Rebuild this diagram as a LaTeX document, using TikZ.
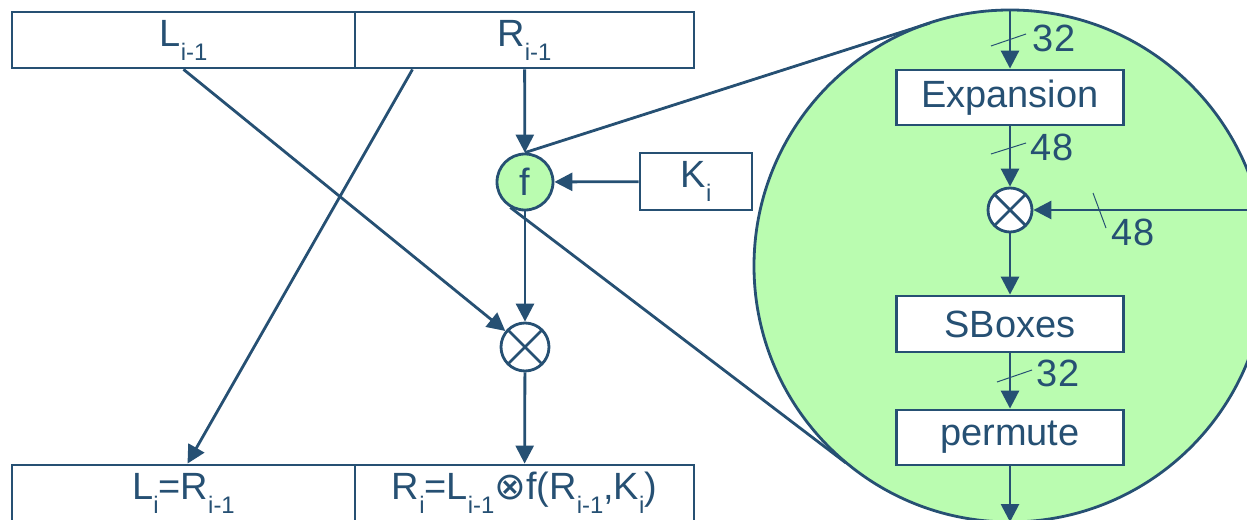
\documentclass[tikz,border=0pt]{standalone}
\usepackage{fontspec}
\setmainfont{Liberation Sans}
\newfontfamily\symfont{DejaVu Sans}
\usetikzlibrary{arrows.meta, positioning}

\definecolor{desblue}{RGB}{38,80,115}
\definecolor{desgreen}{RGB}{186,252,176}
\newcommand\lowidx[1]{\raisebox{-0.7ex}{\fontsize{17}{17}\selectfont #1}}

\begin{document}
\begin{tikzpicture}[
    every node/.style={text=desblue, font=\fontsize{27}{30}\selectfont},
    half/.style={rectangle, draw=desblue, fill=white, line width=2pt, minimum height=1.4cm, inner sep=0pt, align=center},
    stage/.style={rectangle, draw=desblue, fill=white, line width=2pt, minimum width=5.675cm, minimum height=1.375cm, inner sep=0pt},
    fbox/.style={circle, draw=desblue, fill=desgreen, line width=2pt, minimum size=1.4cm, inner sep=0pt},
    xorop/.style={circle, draw=desblue, fill=white, line width=2pt, minimum size=#1, inner sep=0pt,
        path picture={\draw[desblue, line width=2pt] (path picture bounding box.north west) -- (path picture bounding box.south east)
            (path picture bounding box.north east) -- (path picture bounding box.south west);}},
    arrow/.style={draw=desblue, line width=2pt, -{Triangle[length=0.45cm,width=0.45cm]}},
    link/.style={draw=desblue, line width=2pt},
    tick/.style={draw=desblue, line width=0.7pt}
]
\useasboundingbox (0,0) rectangle (31.175,-13);
\clip (0,0) rectangle (31.175,-13);

% Magnified f
\node (zoom) [circle, draw=desblue, fill=desgreen, line width=2pt, minimum size=12.8cm] at (25.25,-6.65) {};

% Nodes
\node (Lprev) [half, minimum width=8.575cm] at (4.5875,-1.0) {L\lowidx{i-1}};
\node (Rprev) [half, minimum width=8.475cm] at (13.1125,-1.0) {R\lowidx{i-1}};
\node (Lnext) [half, minimum width=8.575cm] at (4.5875,-12.325) {L\lowidx{i}=R\lowidx{i-1}};
\node (Rnext) [half, minimum width=8.475cm] at (13.1125,-12.325) {R\lowidx{i}=L\lowidx{i-1}{\symfont ⊗}f(R\lowidx{i-1},K\lowidx{i})};

\node (f) [fbox] at (13.125,-4.55) {f};
\node (key) [half, minimum width=2.8cm, minimum height=1.425cm] at (17.4,-4.5375) {K\lowidx{i}};
\node (xor) [xorop=1.2cm] at (13.125,-8.675) {};

\node (expand) [stage] at (25.25,-2.4375) {Expansion};
\node (xorin) [xorop=1.1cm] at (25.25,-5.25) {};
\node (sbox) [stage, minimum height=1.4cm] at (25.25,-8.1) {SBoxes};
\node (perm) [stage] at (25.25,-10.9375) {permute};

\coordinate (zoomin) at (25.25,-0.25);
\coordinate (zoomout) at (25.25,-13.05);
\coordinate (keyin) at (31.4,-5.25);
\coordinate (zoomtop) at (23.25,-0.575);
\coordinate (zoombot) at (21.15,-11.575);

% Arrows
\draw [arrow] (Lprev.south) -- (xor);
\draw [arrow] ([xshift=-2.8cm]Rprev.south) -- ([xshift=0.1cm]Lnext.north);
\draw [arrow] (Rprev) -- (f);
\draw [arrow] (key) -- (f);
\draw [arrow] (f) -- (xor);
\draw [arrow] (xor) -- (Rnext);

\draw [link] (f.north) -- (zoomtop);
\draw [link] (f.240) -- (zoombot);

\draw [arrow] (zoomin) -- (expand);
\draw [arrow] (expand) -- (xorin);
\draw [arrow] (keyin) -- (xorin);
\draw [arrow] (xorin) -- (sbox);
\draw [arrow] (sbox) -- (perm);
\draw [arrow] (perm) -- (zoomout);

% Bit widths
\draw [tick] (24.775,-1.15) -- (25.65,-0.85);
\node (w1) at (26.35,-0.95) {32};
\draw [tick] (24.775,-3.85) -- (25.65,-3.575);
\node (w2) at (26.3,-3.675) {48};
\draw [tick] (27.325,-4.825) -- (27.65,-5.7);
\node (w3) at (28.325,-5.8) {48};
\draw [tick] (24.925,-9.55) -- (25.8,-9.25);
\node (w4) at (26.45,-9.325) {32};

\end{tikzpicture}
\end{document}
